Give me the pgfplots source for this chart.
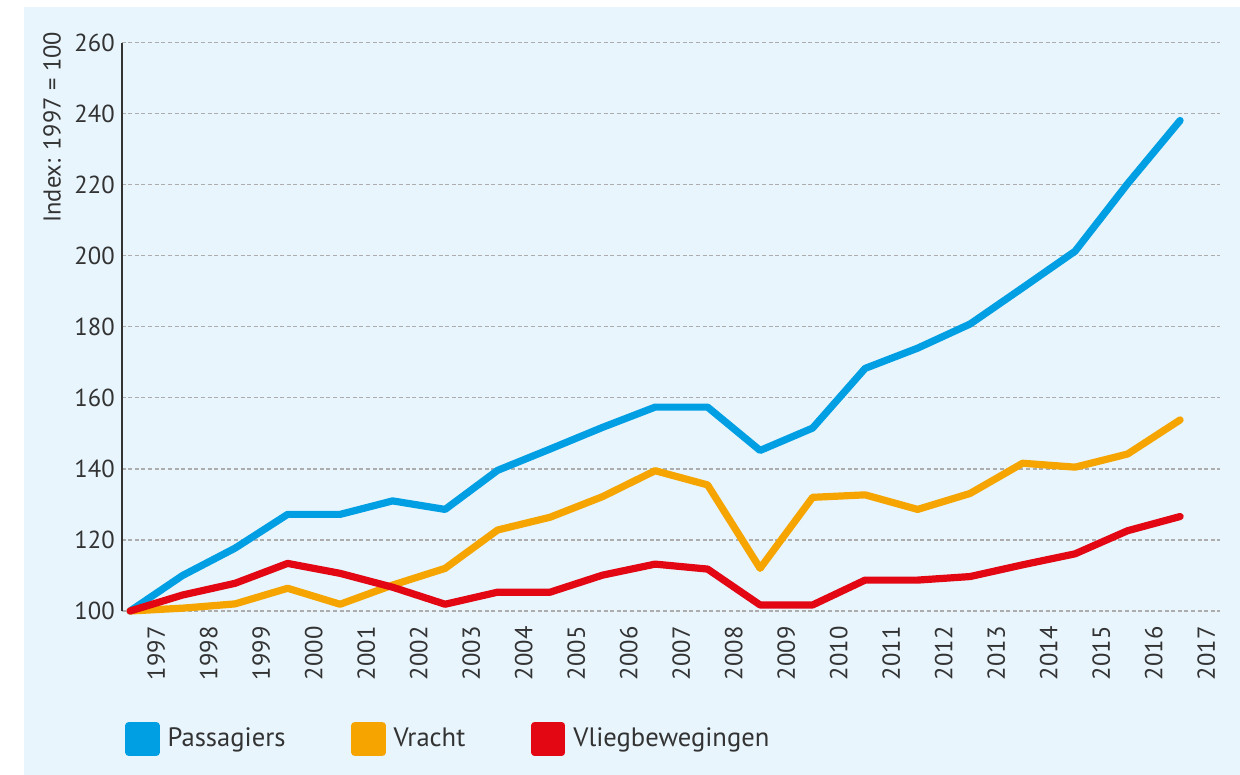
\documentclass[border=0pt]{standalone}
\usepackage{fontspec}
\setmainfont{PT Sans}
\usepackage{pgfplots}
\pgfplotsset{compat=1.18}
\definecolor{bg}{HTML}{E8F5FD}
\definecolor{cblue}{HTML}{009FE3}
\definecolor{corange}{HTML}{F6A500}
\definecolor{cred}{HTML}{E30613}
\definecolor{txt}{HTML}{333333}
\definecolor{gridc}{HTML}{ADADAD}
\begin{document}
\begin{tikzpicture}
\path[use as bounding box] (-60.85pt,-82pt) rectangle (559.15pt,305.5pt);
\fill[bg] (-48.85pt,-82pt) rectangle (559.15pt,302pt);
\begin{axis}[
  at={(0pt,0pt)}, anchor=south west,
  scale only axis, width=549.15pt, height=284.15pt,
  xmin=-0.16, xmax=20.76, ymin=100, ymax=260,
  clip=false,
  axis y line*=left, axis x line*=bottom,
  x axis line style={draw=none},
  y axis line style={draw=txt, line width=1pt},
  ytick={100,120,...,260},
  xtick={0.5,1.5,...,20.5},
  xticklabels={1997,1998,1999,2000,2001,2002,2003,2004,2005,2006,2007,2008,2009,2010,2011,2012,2013,2014,2015,2016,2017},
  major tick length=0pt,
  ymajorgrids, grid style={gridc, dash pattern=on 2pt off 1.3pt, line width=0.6pt},
  tick label style={font=\fontsize{12.3}{14}\selectfont, text=txt},
  /pgf/number format/assume math mode=true,
  yticklabel style={inner sep=0pt},
  yticklabel shift=3.3pt,
  xticklabel style={rotate=90, anchor=east, inner sep=0pt},
  xticklabel shift=7.5pt,
  ylabel={Index: 1997 = 100},
  ylabel style={at={([xshift=-34.85pt,yshift=5.5pt]axis description cs:0,1)}, anchor=east, inner sep=0pt, font=\fontsize{12.2}{14}\selectfont, text=txt},
  legend columns=3,
  legend style={at={([xshift=1.65pt,yshift=-64pt]axis description cs:0,0)}, anchor=west, draw=none, fill=none, inner sep=0pt,
    font=\fontsize{13.3}{16}\selectfont, text=txt,
    nodes={inner sep=0pt},
    /tikz/every odd column/.append style={column sep=4pt},
    /tikz/every even column/.append style={column sep=33pt}},
  legend image code/.code={\fill[#1] (0pt,-6.75pt) rectangle (13.5pt,6.75pt);},
]
\addplot[cblue, line width=3.6pt, line cap=round, line join=round] coordinates {
(0,100) (1,110) (2,117.7) (3,127.2) (4,127.2) (5,131) (6,128.6) (7,139.6) (8,145.6) (9,151.7) (10,157.4)
(11,157.4) (12,145.2) (13,151.5) (14,168.3) (15,174) (16,180.8) (17,191) (18,201.3) (19,220.3) (20,238.1)};
\addlegendentry{Passagiers}
\addplot[corange, line width=3.6pt, line cap=round, line join=round] coordinates {
(0,100) (1,100.8) (2,102) (3,106.4) (4,101.9) (5,107.3) (6,112) (7,122.8) (8,126.4) (9,132.2) (10,139.5)
(11,135.5) (12,112) (13,132) (14,132.7) (15,128.6) (16,133.1) (17,141.6) (18,140.5) (19,144.2) (20,153.8)};
\addlegendentry{Vracht}
\addplot[cred, line width=3.6pt, line cap=round, line join=round] coordinates {
(0,100) (1,104.5) (2,107.8) (3,113.4) (4,110.6) (5,106.7) (6,101.9) (7,105.3) (8,105.3) (9,110.1) (10,113.2)
(11,111.8) (12,101.7) (13,101.7) (14,108.7) (15,108.7) (16,109.7) (17,113) (18,116.1) (19,122.6) (20,126.6)};
\addlegendentry{Vliegbewegingen}
\end{axis}
\end{tikzpicture}
\end{document}
